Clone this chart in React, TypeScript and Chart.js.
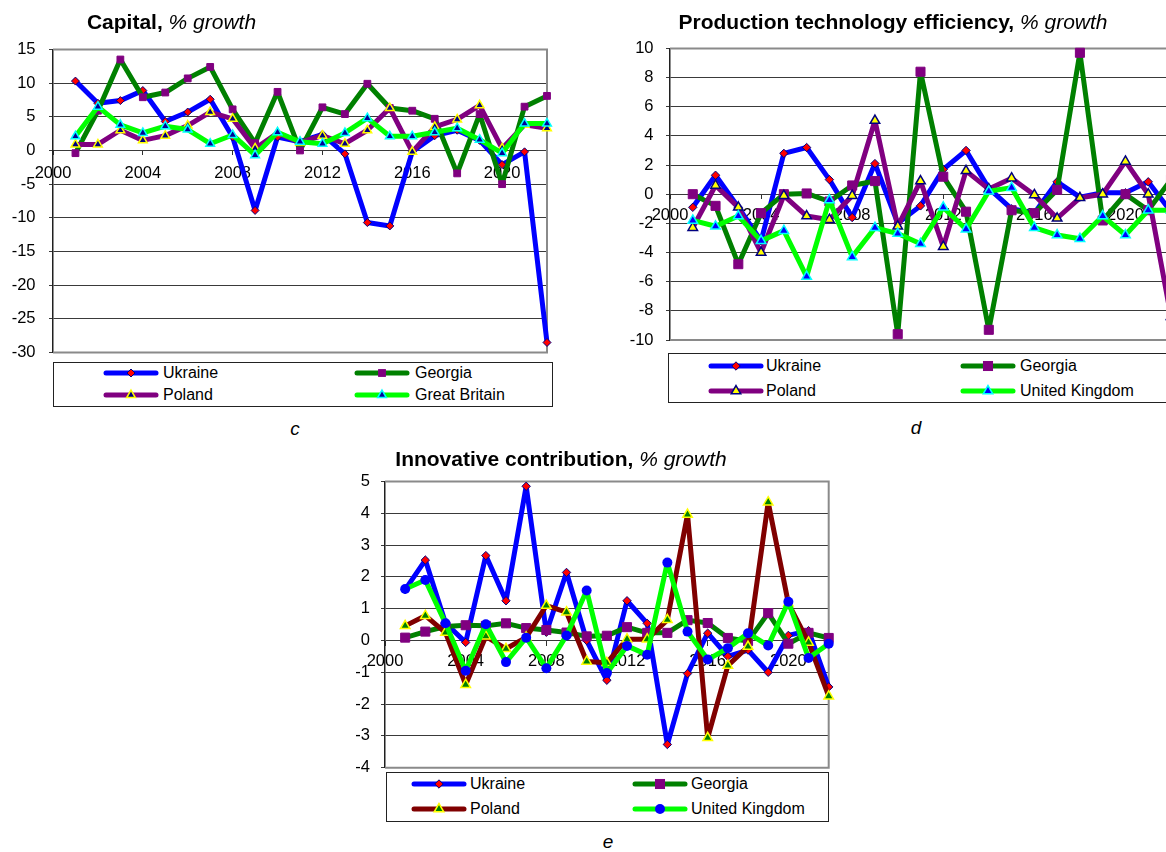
import React, { useEffect, useRef } from "react";
import { Chart, registerables } from "chart.js";

Chart.register(...registerables);

const FONT = "'Liberation Sans', Arial, Helvetica, sans-serif";

// ---------- data ----------
const years = [2001, 2002, 2003, 2004, 2005, 2006, 2007, 2008, 2009, 2010, 2011, 2012, 2013, 2014, 2015, 2016, 2017, 2018, 2019, 2020, 2021, 2022];
const xRange = [2000, 2022];
const xTickYears = [2000, 2004, 2008, 2012, 2016, 2020];

// c: Capital, % growth
const capitalTicks = [-30, -25, -20, -15, -10, -5, 0, 5, 10, 15];
const capitalUkraine = [10.3, 7.0, 7.4, 8.9, 4.3, 5.7, 7.6, 2.0, -8.9, 2.0, 1.3, 2.4, -0.5, -10.7, -11.2, -0.2, 2.2, 3.0, 1.5, -2.1, -0.2, -28.5];
const capitalGeorgia = [-0.4, 5.9, 13.5, 7.9, 8.6, 10.7, 12.4, 6.1, 1.1, 8.7, 0.0, 6.4, 5.4, 9.9, 6.3, 5.9, 4.7, -3.4, 5.4, -5.0, 6.5, 8.1];
const capitalPoland = [0.9, 0.9, 3.0, 1.5, 2.2, 3.7, 5.7, 4.7, 0.3, 2.6, 1.2, 2.2, 1.0, 3.0, 6.3, -0.2, 3.5, 4.6, 6.7, 0.3, 3.8, 3.3];
const capitalBritain = [2.1, 6.5, 3.8, 2.6, 3.6, 3.1, 1.0, 2.3, -0.7, 2.7, 1.3, 1.0, 2.6, 4.8, 2.1, 2.1, 2.7, 3.3, 1.6, -0.4, 4.0, 4.0];

// d: Production technology efficiency, % growth
const techTicks = [-10, -8, -6, -4, -2, 0, 2, 4, 6, 8, 10];
const techUkraine = [-0.9, 1.3, -0.9, -3.2, 2.8, 3.2, 1.0, -1.6, 2.1, -2.0, -0.8, 1.7, 3.0, 0.4, -1.0, -1.3, 0.85, -0.2, 0.1, 0.1, 0.85, -1.2];
const techGeorgia = [0.0, -0.8, -4.8, -1.3, 0.0, 0.05, -0.5, 0.6, 0.9, -9.6, 8.4, 1.2, -1.2, -9.3, -1.1, -1.3, 0.3, 9.7, -1.8, 0.0, -1.1, 1.0];
const techPoland = [-2.3, 0.6, -0.9, -4.0, -0.1, -1.5, -1.75, -0.1, 5.05, -2.2, 0.9, -3.6, 1.6, 0.35, 1.1, -0.05, -1.65, -0.25, 0.0, 2.25, 0.0, -8.4];
const techUK = [-1.8, -2.2, -1.5, -3.2, -2.5, -5.65, -0.4, -4.3, -2.3, -2.7, -3.4, -0.9, -2.4, 0.2, 0.45, -2.3, -2.8, -3.05, -1.5, -2.8, -1.1, -1.1];

// e: Innovative contribution, % growth
const innovTicks = [-4, -3, -2, -1, 0, 1, 2, 3, 4, 5];
const innovUkraine = [1.6, 2.53, 0.55, -0.06, 2.67, 1.25, 4.85, 0.26, 2.14, 0.0, -1.25, 1.25, 0.54, -3.27, -1.04, 0.23, -0.5, -0.3, -1.0, 0.16, 0.31, -1.46];
const innovGeorgia = [0.09, 0.28, 0.44, 0.48, 0.46, 0.54, 0.39, 0.33, 0.25, 0.13, 0.15, 0.42, 0.24, 0.24, 0.64, 0.55, 0.08, -0.02, 0.86, -0.1, 0.24, 0.08];
const innovPoland = [0.46, 0.78, 0.25, -1.39, 0.13, -0.26, 0.1, 1.1, 0.89, -0.66, -0.7, 0.04, 0.04, 0.65, 3.96, -3.06, -0.79, -0.19, 4.35, 1.17, -0.06, -1.75];
const innovUK = [1.62, 1.9, 0.54, -0.95, 0.51, -0.68, 0.09, -0.87, 0.16, 1.57, -1.02, -0.17, -0.45, 2.45, 0.28, -0.6, -0.24, 0.23, -0.16, 1.22, -0.55, -0.1];

// ---------- styles ----------
type Shape = "diamond" | "square" | "triangle" | "circle";
interface MarkerStyle { shape: Shape; r: number; fill: string; stroke: string; bw: number; }
interface Series { label: string; values: number[]; color: string; marker: MarkerStyle; }

const pointStyleOf: Record<Shape, string> = { diamond: "rectRot", square: "rect", triangle: "triangle", circle: "circle" };

const BLUE = "#0000FF", GREEN = "#008000", PURPLE = "#800080", LIME = "#00FF00", MAROON = "#800000";
const RED = "#FF0000", NAVY = "#000080", YELLOW = "#FFFF00", CYAN = "#00FFFF";

const capitalSeries: Series[] = [
  { label: "Ukraine", values: capitalUkraine, color: BLUE, marker: { shape: "diamond", r: 4, fill: RED, stroke: NAVY, bw: 1 } },
  { label: "Georgia", values: capitalGeorgia, color: GREEN, marker: { shape: "square", r: 4.8, fill: PURPLE, stroke: PURPLE, bw: 1 } },
  { label: "Poland", values: capitalPoland, color: PURPLE, marker: { shape: "triangle", r: 5, fill: NAVY, stroke: YELLOW, bw: 1.5 } },
  { label: "Great Britain", values: capitalBritain, color: LIME, marker: { shape: "triangle", r: 5, fill: "#000099", stroke: CYAN, bw: 1.5 } },
];

const techSeries: Series[] = [
  { label: "Ukraine", values: techUkraine, color: BLUE, marker: { shape: "diamond", r: 4.2, fill: RED, stroke: NAVY, bw: 1 } },
  { label: "Georgia", values: techGeorgia, color: GREEN, marker: { shape: "square", r: 6.4, fill: PURPLE, stroke: PURPLE, bw: 1 } },
  { label: "Poland", values: techPoland, color: PURPLE, marker: { shape: "triangle", r: 5.5, fill: YELLOW, stroke: NAVY, bw: 1.5 } },
  { label: "United Kingdom", values: techUK, color: LIME, marker: { shape: "triangle", r: 5.5, fill: BLUE, stroke: CYAN, bw: 1.5 } },
];

const innovSeries: Series[] = [
  { label: "Ukraine", values: innovUkraine, color: BLUE, marker: { shape: "diamond", r: 4.2, fill: RED, stroke: NAVY, bw: 1 } },
  { label: "Georgia", values: innovGeorgia, color: GREEN, marker: { shape: "square", r: 6.4, fill: PURPLE, stroke: PURPLE, bw: 1 } },
  { label: "Poland", values: innovPoland, color: MAROON, marker: { shape: "triangle", r: 5.5, fill: GREEN, stroke: YELLOW, bw: 1.5 } },
  { label: "United Kingdom", values: innovUK, color: LIME, marker: { shape: "circle", r: 5, fill: BLUE, stroke: BLUE, bw: 0 } },
];

const plotBorder = {
  id: "plotBorder",
  beforeDatasetsDraw(chart: any) {
    const { ctx, chartArea } = chart;
    const { left, top, right, bottom } = chartArea;
    ctx.save();
    ctx.strokeStyle = "#8a8a8a";
    ctx.lineWidth = 2;
    ctx.beginPath();
    ctx.moveTo(left, top);
    ctx.lineTo(right, top);
    ctx.lineTo(right, bottom);
    ctx.lineTo(left, bottom);
    ctx.stroke();
    ctx.restore();
  },
};

interface ChartProps {
  left: number; top: number; width: number; height: number;
  series: Series[]; yTicks: number[]; yWidth: number;
  pad: { top: number; right: number; bottom: number };
  xLabelPad: number; yLabelPad: number;
}

function LineChart(p: ChartProps) {
  const ref = useRef<HTMLCanvasElement>(null);
  useEffect(() => {
    const tickFont = { family: FONT, size: 16.5 };
    const n = p.series.length;
    const chart = new Chart(ref.current as HTMLCanvasElement, {
      type: "line",
      data: {
        datasets: p.series.map((s, i) => ({
          label: s.label,
          data: years.map((x, j) => ({ x, y: s.values[j] })),
          borderColor: s.color,
          backgroundColor: s.color,
          borderWidth: 5,
          borderJoinStyle: "round",
          borderCapStyle: "round",
          tension: 0,
          fill: false,
          pointStyle: pointStyleOf[s.marker.shape],
          pointRadius: s.marker.r,
          pointBackgroundColor: s.marker.fill,
          pointBorderColor: s.marker.stroke,
          pointBorderWidth: s.marker.bw,
          order: n - i,
          clip: false,
        })) as any,
      },
      options: {
        responsive: false,
        maintainAspectRatio: false,
        animation: false,
        events: [],
        layout: { padding: { left: 0, top: p.pad.top, right: p.pad.right, bottom: p.pad.bottom } },
        plugins: { legend: { display: false }, tooltip: { enabled: false }, title: { display: false } },
        scales: {
          x: {
            type: "linear",
            min: xRange[0],
            max: xRange[1],
            position: { y: 0 } as any,
            z: 1,
            afterBuildTicks: (s: any) => { s.ticks = xTickYears.map((v) => ({ value: v })); },
            afterFit: (s: any) => { s.height = 0; },
            grid: { drawOnChartArea: false, drawTicks: true, tickLength: 5, tickColor: "#303030", tickWidth: 1 },
            border: { display: false },
            ticks: { autoSkip: false, maxRotation: 0, minRotation: 0, padding: p.xLabelPad, font: tickFont, color: "#000", callback: (v: any) => String(v) },
          },
          y: {
            type: "linear",
            min: p.yTicks[0],
            max: p.yTicks[p.yTicks.length - 1],
            afterBuildTicks: (s: any) => { s.ticks = p.yTicks.map((v) => ({ value: v })); },
            afterFit: (s: any) => { s.width = p.yWidth; },
            grid: { color: "#3a3a3a", lineWidth: 1, drawTicks: true, tickLength: 4 },
            border: { display: true, color: "#202020", width: 1.5 },
            ticks: { padding: p.yLabelPad, font: tickFont, color: "#000", callback: (v: any) => String(v) },
          },
        } as any,
      },
      plugins: [plotBorder],
    } as any);
    return () => chart.destroy();
  }, []);
  return (
    <canvas
      ref={ref}
      width={p.width}
      height={p.height}
      style={{ position: "absolute", left: p.left, top: p.top, width: p.width, height: p.height }}
    />
  );
}

function MarkerSvg({ m, cx, cy }: { m: MarkerStyle; cx: number; cy: number }) {
  if (m.shape === "diamond") {
    const pts = `${cx},${cy - m.r} ${cx + m.r},${cy} ${cx},${cy + m.r} ${cx - m.r},${cy}`;
    return <polygon points={pts} fill={m.fill} stroke={m.stroke} strokeWidth={m.bw} />;
  }
  if (m.shape === "square") {
    const h = m.r * Math.SQRT1_2;
    return <rect x={cx - h} y={cy - h} width={2 * h} height={2 * h} fill={m.fill} stroke={m.stroke} strokeWidth={m.bw} />;
  }
  if (m.shape === "triangle") {
    const pts = [0, 1, 2]
      .map((k) => {
        const a = (k * 2 * Math.PI) / 3;
        return `${cx + Math.sin(a) * m.r},${cy - Math.cos(a) * m.r}`;
      })
      .join(" ");
    return <polygon points={pts} fill={m.fill} stroke={m.stroke} strokeWidth={m.bw} />;
  }
  return <circle cx={cx} cy={cy} r={m.r} fill={m.fill} stroke={m.stroke} strokeWidth={m.bw} />;
}

interface LegendProps {
  box: { left: number; top: number; width: number; height: number };
  sampleX: number[]; textX: number[]; rowY: number[];
  series: Series[];
}

function Legend({ box, sampleX, textX, rowY, series }: LegendProps) {
  const sw = 56;
  return (
    <>
      <div
        style={{
          position: "absolute", left: box.left, top: box.top, width: box.width, height: box.height,
          border: "1px solid #222", boxSizing: "border-box", background: "#fff",
        }}
      />
      {series.map((s, i) => {
        const col = i % 2;
        const row = Math.floor(i / 2);
        const y = rowY[row];
        return (
          <React.Fragment key={s.label}>
            <svg
              width={sw}
              height={16}
              style={{ position: "absolute", left: sampleX[col] - 1, top: y - 8, overflow: "visible" }}
            >
              <line x1={3} y1={8} x2={sw - 3} y2={8} stroke={s.color} strokeWidth={5} strokeLinecap="round" />
              <MarkerSvg m={s.marker} cx={sw / 2} cy={8} />
            </svg>
            <div
              style={{
                position: "absolute", left: textX[col], top: y - 10, height: 20, lineHeight: "20px",
                fontSize: 16, fontFamily: FONT, color: "#000", whiteSpace: "nowrap",
              }}
            >
              {s.label}
            </div>
          </React.Fragment>
        );
      })}
    </>
  );
}

function Title({ cx, top, bold, italic }: { cx: number; top: number; bold: string; italic: string }) {
  return (
    <div
      style={{
        position: "absolute", left: cx, top, transform: "translateX(-50%)", whiteSpace: "nowrap",
        fontFamily: FONT, fontSize: 21, lineHeight: "24px", color: "#000",
      }}
    >
      <span style={{ fontWeight: "bold" }}>{bold}</span> <span style={{ fontStyle: "italic" }}>{italic}</span>
    </div>
  );
}

function Caption({ cx, top, text }: { cx: number; top: number; text: string }) {
  return (
    <div
      style={{
        position: "absolute", left: cx, top, transform: "translateX(-50%)", fontFamily: FONT,
        fontSize: 19, fontStyle: "italic", lineHeight: "20px", color: "#000",
      }}
    >
      {text}
    </div>
  );
}

export default function App() {
  return (
    <div
      style={{
        position: "absolute", left: 0, top: 0, width: 1166, height: 852, overflow: "hidden",
        background: "#fff", fontFamily: FONT,
      }}
    >
      <LineChart
        left={0} top={26} width={580} height={350}
        series={capitalSeries} yTicks={capitalTicks} yWidth={53}
        pad={{ top: 20, right: 33, bottom: 23 }} xLabelPad={8.5} yLabelPad={13.5}
      />
      <LineChart
        left={600} top={26} width={600} height={340}
        series={techSeries} yTicks={techTicks} yWidth={70}
        pad={{ top: 20, right: 29, bottom: 26 }} xLabelPad={6.5} yLabelPad={12.5}
      />
      <LineChart
        left={320} top={460} width={540} height={330}
        series={innovSeries} yTicks={innovTicks} yWidth={65}
        pad={{ top: 21.5, right: 31.3, bottom: 22.3 }} xLabelPad={6} yLabelPad={11}
      />

      <Title cx={171.5} top={10} bold="Capital," italic="% growth" />
      <Title cx={893} top={10} bold="Production technology efficiency," italic="% growth" />
      <Title cx={561} top={446.7} bold="Innovative contribution," italic="% growth" />

      <Legend
        box={{ left: 53, top: 362, width: 500, height: 45 }}
        sampleX={[104, 355]} textX={[163, 415]} rowY={[373, 395]}
        series={capitalSeries}
      />
      <Legend
        box={{ left: 668, top: 353, width: 520, height: 50 }}
        sampleX={[709, 961]} textX={[766, 1020]} rowY={[366, 391]}
        series={techSeries}
      />
      <Legend
        box={{ left: 386, top: 772, width: 443, height: 50 }}
        sampleX={[412, 633]} textX={[470, 691]} rowY={[784, 809]}
        series={innovSeries}
      />

      <Caption cx={295} top={419} text="c" />
      <Caption cx={916} top={418} text="d" />
      <Caption cx={608} top={832} text="e" />
    </div>
  );
}
